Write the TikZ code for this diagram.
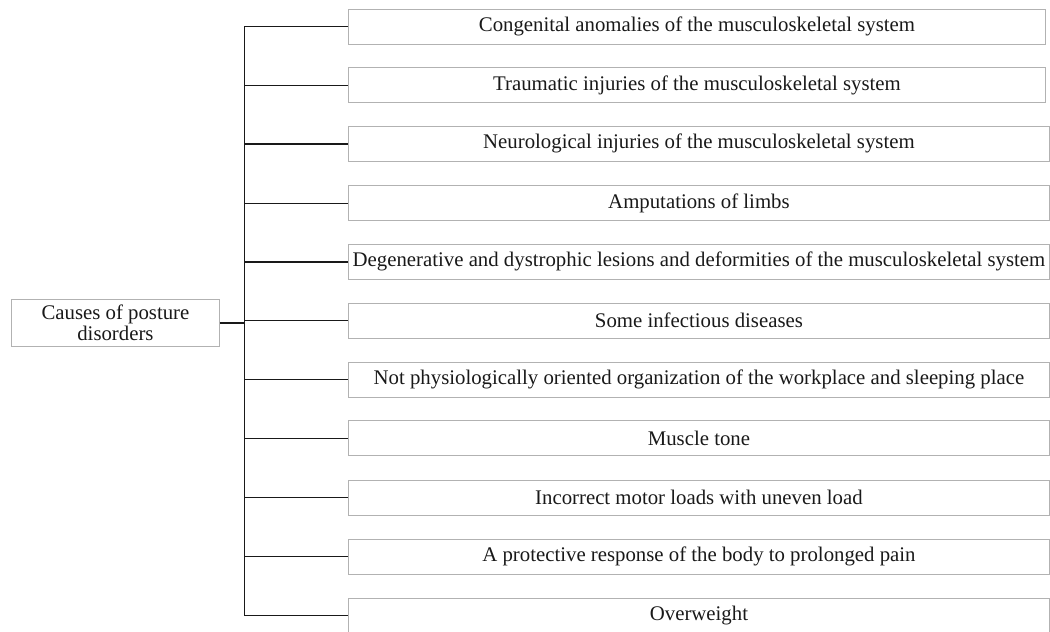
\documentclass[tikz,border=0pt]{standalone}
\usepackage{fontspec}
\setmainfont{Liberation Serif}
\begin{document}
\begin{tikzpicture}[x=1pt,y=-1pt,
  every node/.style={font=\fontsize{20.8}{21}\selectfont, text=black!90},
  cause/.style={draw=black!30, line width=0.9pt, anchor=west, minimum width=#1, minimum height=35pt, inner sep=0pt, align=center},
  cause/.default=701,
  conn/.style={draw=black!90, line width=1.5pt}]
\clip (0,0) rectangle (1050,632);
\node[draw=black!30, line width=0.9pt, minimum width=208pt, minimum height=47pt, inner sep=0pt, align=center, anchor=west] (root) at (11,323) {Causes of posture\\disorders};
\node[cause=697] (b1) at (348,26.5) {Congenital anomalies of the musculoskeletal system};
\node[cause=697] (b2) at (348,85.3) {Traumatic injuries of the musculoskeletal system};
\node[cause] (b3) at (348,143.9) {Neurological injuries of the musculoskeletal system};
\node[cause] (b4) at (348,203.3) {Amputations of limbs};
\node[cause] (b5) at (348,261.8) {Degenerative and dystrophic lesions and deformities of the musculoskeletal system};
\node[cause] (b6) at (348,320.5) {Some infectious diseases};
\node[cause] (b7) at (348,379.5) {Not physiologically oriented organization of the workplace and sleeping place};
\node[cause] (b8) at (348,438.3) {Muscle tone};
\node[cause] (b9) at (348,497.5) {Incorrect motor loads with uneven load};
\node[cause] (b10) at (348,556.7) {A protective response of the body to prolonged pain};
\node[cause] (b11) at (348,615.7) {Overweight};
\coordinate (t) at (244.3,0);
\draw[conn] (b1.west) -- (b1.west -| t) -- (b11.west -| t) -- (b11.west);
\foreach \i in {2,...,10} {\draw[conn] (b\i.west -| t) -- (b\i.west);}
\draw[conn] (root.east) -- (root.east -| t);
\end{tikzpicture}
\end{document}
